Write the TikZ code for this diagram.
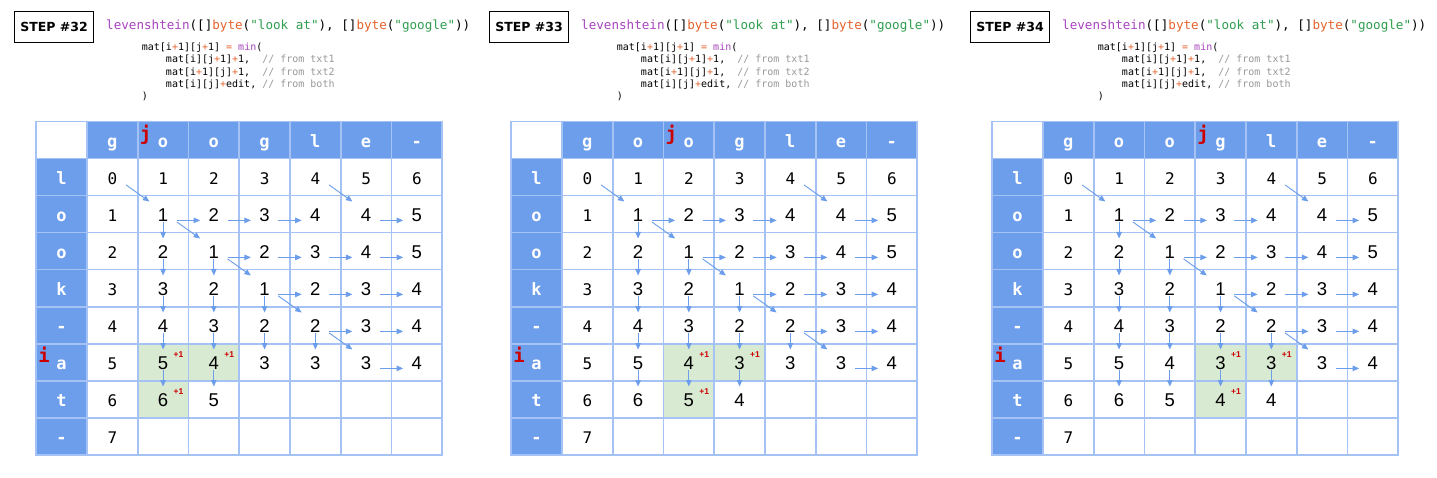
\documentclass[tikz,border=0pt]{standalone}
\usepackage{fontspec}
\usepackage{tikz}
\usetikzlibrary{arrows.meta}
\newfontfamily\monofont{DejaVu Sans Mono}
\newfontfamily\valfont{Liberation Sans}
\newfontfamily\stepfont{DejaVu Sans}
\definecolor{hdrblue}{HTML}{6D9EEB}
\definecolor{gridblue}{HTML}{A4C2F4}
\definecolor{cellgreen}{HTML}{D9EAD3}
\definecolor{arrowblue}{HTML}{6D9EEB}
\definecolor{markred}{HTML}{CC0000}
\definecolor{fnpurple}{HTML}{A745BE}
\definecolor{kworange}{HTML}{E5622C}
\definecolor{strgreen}{HTML}{2E9E4F}
\definecolor{cmtgray}{HTML}{999999}
\newcommand{\opc}[1]{\textcolor{kworange}{#1}}

\tikzset{
	cellval/.style={anchor=base, inner sep=0pt, minimum width=27pt, text height=20pt, text depth=0pt, font=\valfont\fontsize{18.5}{18.5}\selectfont},
	edgeval/.style={cellval, font=\monofont\fontsize{16}{16}\selectfont},
	hdr/.style={anchor=base, inner sep=0pt, text=white, font=\monofont\bfseries\fontsize{17}{17}\selectfont},
	idx/.style={anchor=base, inner sep=0pt, text=markred, font=\monofont\bfseries\fontsize{19}{19}\selectfont},
	plusone/.style={inner sep=0pt, text=markred, font=\valfont\bfseries\fontsize{8.5}{8.5}\selectfont},
	stepbox/.style={draw, line width=1pt, minimum width=78.5pt, minimum height=30.6pt, inner sep=0pt, font=\stepfont\bfseries\fontsize{12.5}{12.5}\selectfont},
	gridline/.style={draw=gridblue, line width=1.6pt, line cap=rect},
	arr/.style={color=arrowblue, line width=0.9pt, -{Triangle[length=6.5pt,width=5.5pt]}}
}

\begin{document}
\begin{tikzpicture}[x=1pt, y=-1pt,
	declare function={cellx(\c)=36.2+(\c+0.5)*50.75; celly(\r)=121.7+(\r+0.5)*37;}]
\fill[white] (0,0) rectangle (1437,478);
\useasboundingbox (0,0) rectangle (1437,478);

\foreach \px/\stp/\jc/\jt in {0/32/2/3, 475/33/3/4, 956/34/4/5}{
\begin{scope}[xshift=\px]
	% title and code
	\node[stepbox] (s\stp) at (54,27.2) {STEP \#\stp};
	\node[anchor=base west, inner sep=0pt, font=\monofont\fontsize{12.6}{12.6}\selectfont] (t\stp) at (106,29.5)
		{\textcolor{fnpurple}{levenshtein}([]\textcolor{kworange}{byte}(\textcolor{strgreen}{"look~at"}),~[]\textcolor{kworange}{byte}(\textcolor{strgreen}{"google"}))};
	\node[anchor=north west, inner sep=0pt, align=left, font=\monofont\fontsize{10}{12.3}\selectfont] (c\stp) at (141.7,42.7)
		{mat[i\opc{+}1][j\opc{+}1]~\opc{=}~\textcolor{fnpurple}{min}(\\
		\hspace*{24.08pt}mat[i][j\opc{+}1]\opc{+}1,~~\textcolor{cmtgray}{//~from~txt1}\\
		\hspace*{24.08pt}mat[i\opc{+}1][j]\opc{+}1,~~\textcolor{cmtgray}{//~from~txt2}\\
		\hspace*{24.08pt}mat[i][j]\opc{+}edit,~\textcolor{cmtgray}{//~from~both}\\
		)};

	% table background
	\fill[hdrblue] (86.95,121.7) rectangle (442.2,158.7);
	\fill[hdrblue] (36.2,158.7) rectangle (86.95,454.7);
	\fill[cellgreen] ({36.2+\jc*50.75},343.7) rectangle ({36.2+(\jc+2)*50.75},380.7);
	\fill[cellgreen] ({36.2+\jc*50.75},380.7) rectangle ({36.2+(\jc+1)*50.75},417.7);
	\foreach \c in {0,...,8} \draw[gridline] ({36.2+\c*50.75},121.7) -- ({36.2+\c*50.75},454.7);
	\foreach \r in {0,...,9} \draw[gridline] (36.2,{121.7+\r*37}) -- (442.2,{121.7+\r*37});

	% headers
	\foreach \ch [count=\c] in {g,o,o,g,l,e,-} \node[hdr] (h\stp-0-\c) at ({cellx(\c)},{celly(0)+7.5}) {\ch};
	\foreach \ch [count=\r] in {l,o,o,k,-,a,t,-} \node[hdr] (h\stp-\r-0) at ({cellx(0)},{celly(\r)+7.5}) {\ch};
	\node[idx] (j\stp) at ({36.2+\jc*50.75+8},{celly(0)}) {j};
	\node[idx] (i\stp) at (44.2,{celly(6)}) {i};

	% values
	\foreach \c [evaluate=\c as \v using int(\c-1)] in {1,...,7} \node[edgeval] (v\stp-1-\c) at ({cellx(\c)},{celly(1)+7.5}) {\v};
	\foreach \r [evaluate=\r as \v using int(\r-1)] in {2,...,8} \node[edgeval] (v\stp-\r-1) at ({cellx(1)},{celly(\r)+7.5}) {\v};
	\foreach \row [count=\r from 2] in {{1,2,3,4,4,5},{2,1,2,3,4,5},{3,2,1,2,3,4},{4,3,2,2,3,4},{5,4,3,3,3,4}}
		\foreach \v [count=\c from 2] in \row \node[cellval] (v\stp-\r-\c) at ({cellx(\c)},{celly(\r)+7.5}) {\v};
	\foreach \v [count=\c from 2] in {6,5,4,4} {\ifnum\c>\jt\else \node[cellval] (v\stp-7-\c) at ({cellx(\c)},{celly(7)+7.5}) {\v};\fi}

	\node[plusone] (p\stp-1) at ({cellx(\jc)+15.5},{celly(6)-7.5}) {+1};
	\node[plusone] (p\stp-2) at ({cellx(\jc+1)+15.5},{celly(6)-7.5}) {+1};
	\node[plusone] (p\stp-3) at ({cellx(\jc)+15.5},{celly(7)-7.5}) {+1};

	% arrows
	\foreach \a/\b in {1-1/2-2, 1-5/2-6, 2-2/3-3, 3-3/4-4, 4-4/5-5, 5-5/6-6}
		\draw[arr] (v\stp-\a.south east) -- (v\stp-\b.north west);
	\foreach \r/\c/\n in {2/2/3, 2/3/4, 2/4/5, 2/6/7, 3/3/4, 3/4/5, 3/5/6, 3/6/7, 4/4/5, 4/5/6, 4/6/7, 5/5/6, 5/6/7, 6/6/7}
		\draw[arr] ([yshift=1.5pt]v\stp-\r-\c.south east) -- ([yshift=1.5pt]v\stp-\r-\n.south west);
	\foreach \r/\c [evaluate=\r as \n using int(\r+1)] in {2/2, 3/2, 3/3, 4/2, 4/3, 4/4, 5/2, 5/3, 5/4, 5/5}
		\draw[arr] (v\stp-\r-\c.south) -- (v\stp-\n-\c.north);
	\foreach \c in {2,...,\jt}
		\draw[arr] (v\stp-6-\c.south) -- (v\stp-7-\c.north);
\end{scope}
}
\end{tikzpicture}
\end{document}
